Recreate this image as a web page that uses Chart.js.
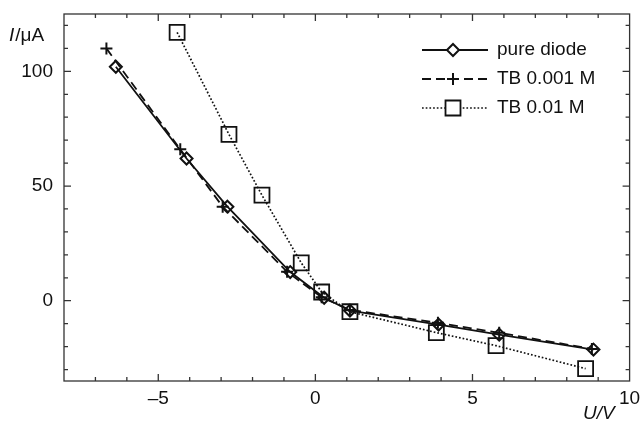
<!DOCTYPE html>
<html>
<head>
<meta charset="utf-8">
<script src="https://cdn.jsdelivr.net/npm/chart.js@4.4.0/dist/chart.umd.min.js"></script>
<style>
  body { margin: 0; background: #fff; }
  canvas { display: block; }
</style>
</head>
<body>
<canvas id="chart" width="642" height="425"></canvas>
<script>
// dados
const diodeU = [-6.35, -4.1, -2.8, -0.8, 0.28, 1.1, 3.92, 5.85, 8.85];
const diodeI = [102, 62, 41, 12.5, 1.3, -4.3, -10.4, -14.8, -21.3];
const tb1U = [-6.65, -4.3, -2.95, -0.9, 0.2, 1.1, 3.9, 5.85, 8.8];
const tb1I = [110, 66, 41, 12.6, 1.5, -4, -9.6, -14, -21];
const tb2U = [-4.4, -2.75, -1.7, -0.45, 0.2, 1.1, 3.85, 5.75, 8.6];
const tb2I = [117, 72.5, 46, 16.5, 3.8, -4.8, -13.9, -19.6, -29.6];

const seriesLabels = ['pure diode', 'TB 0.001 M', 'TB 0.01 M'];
const xLabelTicks = [-5, 0, 5, 10];
const yLabelTicks = [0, 50, 100];

const ink = '#111';
const axisColor = '#333';
const fontFamily = 'Arial, "Liberation Sans", sans-serif';
const fontSize = 19;

function pontos(us, is) {
    return us.map((u, i) => ({ x: u, y: is[i] }));
}

function formatNum(v) {
    return v < 0 ? '\u2013' + Math.abs(v) : String(v);
}

// desenha moldura, ticks internos, rótulos e legenda
const framePlugin = {
    id: 'frame',
    beforeDatasetsDraw(chart) {
        const { ctx, chartArea: a, scales } = chart;
        ctx.save();
        ctx.strokeStyle = axisColor;
        ctx.lineWidth = 1.3;
        ctx.strokeRect(a.left, a.top, a.right - a.left, a.bottom - a.top);
        ctx.beginPath();
        for (let v = -7; v <= 9; v++) {
            const px = scales.x.getPixelForValue(v);
            const len = v % 5 === 0 ? 7 : 4;
            ctx.moveTo(px, a.bottom); ctx.lineTo(px, a.bottom - len);
            ctx.moveTo(px, a.top); ctx.lineTo(px, a.top + len);
        }
        for (let v = -30; v <= 120; v += 10) {
            const py = scales.y.getPixelForValue(v);
            const len = v % 50 === 0 ? 7 : 4;
            ctx.moveTo(a.left, py); ctx.lineTo(a.left + len, py);
            ctx.moveTo(a.right, py); ctx.lineTo(a.right - len, py);
        }
        ctx.stroke();

        // rótulos dos ticks
        ctx.fillStyle = ink;
        ctx.font = fontSize + 'px ' + fontFamily;
        ctx.textBaseline = 'middle';
        ctx.textAlign = 'center';
        xLabelTicks.forEach(v => {
            ctx.fillText(formatNum(v), scales.x.getPixelForValue(v), a.bottom + 18);
        });
        ctx.textAlign = 'right';
        yLabelTicks.forEach(v => {
            ctx.fillText(formatNum(v), a.left - 11, scales.y.getPixelForValue(v));
        });
        ctx.restore();
    },
    afterDraw(chart) {
        const ctx = chart.ctx;
        ctx.save();
        ctx.fillStyle = ink;
        ctx.textBaseline = 'middle';
        ctx.textAlign = 'left';
        // título do eixo y
        ctx.font = 'italic ' + fontSize + 'px ' + fontFamily;
        ctx.fillText('I', 9, 36);
        const w = ctx.measureText('I').width;
        ctx.font = fontSize + 'px ' + fontFamily;
        ctx.fillText('/\u03bcA', 9 + w + 1, 36);
        // título do eixo x
        ctx.font = 'italic ' + fontSize + 'px ' + fontFamily;
        ctx.fillText('U/V', 583, 414);

        // legenda
        const rows = [50, 79, 108];
        chart.data.datasets.forEach((ds, i) => {
            const y = rows[i];
            ctx.strokeStyle = ds.borderColor;
            ctx.lineWidth = ds.borderWidth;
            ctx.setLineDash(ds.borderDash || []);
            ctx.beginPath();
            ctx.moveTo(422, y);
            ctx.lineTo(488, y);
            ctx.stroke();
            ctx.setLineDash([]);
            desenharMarcador(ctx, ds.pointStyle, 453, y, ds.pointRadius, ds.pointBorderWidth);
            ctx.fillStyle = ink;
            ctx.font = fontSize + 'px ' + fontFamily;
            ctx.fillText(ds.label, 497, y);
        });
        ctx.restore();
    }
};

function desenharMarcador(ctx, style, x, y, r, lw) {
    ctx.save();
    ctx.strokeStyle = ink;
    ctx.fillStyle = '#fff';
    ctx.lineWidth = lw;
    ctx.beginPath();
    if (style === 'rectRot') {
        ctx.moveTo(x - r, y); ctx.lineTo(x, y - r); ctx.lineTo(x + r, y); ctx.lineTo(x, y + r);
        ctx.closePath();
        ctx.fill();
        ctx.stroke();
    } else if (style === 'rect') {
        const s = r * Math.SQRT1_2;
        ctx.rect(x - s, y - s, 2 * s, 2 * s);
        ctx.fill();
        ctx.stroke();
    } else {
        ctx.moveTo(x - r, y); ctx.lineTo(x + r, y);
        ctx.moveTo(x, y - r); ctx.lineTo(x, y + r);
        ctx.stroke();
    }
    ctx.restore();
}

new Chart(document.getElementById('chart'), {
    type: 'scatter',
    data: {
        datasets: [
            {
                label: seriesLabels[0],
                data: pontos(diodeU, diodeI),
                showLine: true,
                borderColor: ink,
                borderWidth: 1.8,
                pointStyle: 'rectRot',
                pointRadius: 6,
                pointBorderWidth: 2,
                pointBackgroundColor: 'rgba(0,0,0,0)',
                pointBorderColor: ink
            },
            {
                label: seriesLabels[1],
                data: pontos(tb1U, tb1I),
                showLine: true,
                borderColor: ink,
                borderWidth: 1.8,
                borderDash: [9, 5],
                pointStyle: 'cross',
                pointRadius: 6,
                pointBorderWidth: 2,
                pointBorderColor: ink
            },
            {
                label: seriesLabels[2],
                data: pontos(tb2U, tb2I),
                showLine: true,
                borderColor: ink,
                borderWidth: 1.7,
                borderDash: [1.7, 2],
                pointStyle: 'rect',
                pointRadius: 10.6,
                pointBorderWidth: 1.8,
                pointBackgroundColor: 'rgba(0,0,0,0)',
                pointBorderColor: ink
            }
        ]
    },
    options: {
        responsive: false,
        animation: false,
        layout: { padding: { top: 14, right: 9, left: 0, bottom: 0 } },
        plugins: {
            legend: { display: false },
            tooltip: { enabled: false }
        },
        scales: {
            x: {
                type: 'linear',
                min: -8,
                max: 10,
                grid: { display: false, drawTicks: false },
                border: { display: false },
                ticks: { display: false },
                afterFit(scale) { scale.height = 44; }
            },
            y: {
                type: 'linear',
                min: -35,
                max: 125,
                grid: { display: false, drawTicks: false },
                border: { display: false },
                ticks: { display: false },
                afterFit(scale) { scale.width = 64; }
            }
        }
    },
    plugins: [framePlugin]
});
</script>
</body>
</html>
